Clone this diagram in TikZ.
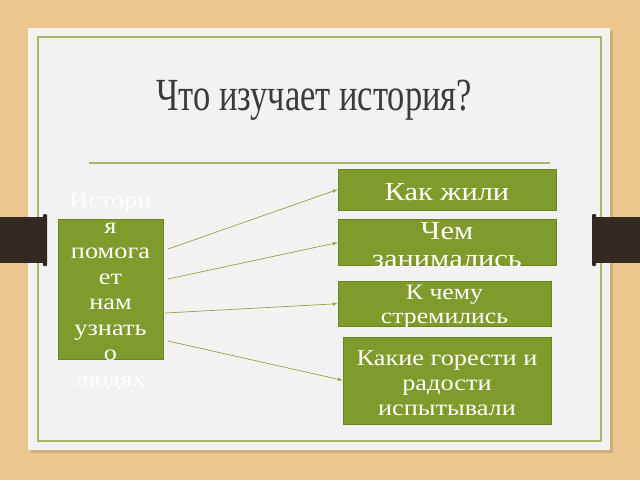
\documentclass[tikz,border=0pt]{standalone}
\usepackage{fontspec}
\setmainfont[FakeStretch=1.17]{Liberation Serif}
\newfontfamily\titlefont[FakeStretch=0.75]{Liberation Serif}
\usetikzlibrary{positioning}

\definecolor{wood}{RGB}{236,198,143}
\definecolor{card}{RGB}{242,242,242}
\definecolor{olive}{RGB}{127,155,43}
\definecolor{oliveline}{RGB}{163,184,104}
\definecolor{clipdark}{RGB}{52,41,33}
\definecolor{titlegrey}{RGB}{58,58,58}

\begin{document}
\begin{tikzpicture}
[x=1pt, y=-1pt, >=latex,
% STYLES
% The topic style is used to draw the green boxes
topic/.style={rectangle, draw=olive!85!black, fill=olive, inner sep=0pt, line width=0.6pt},
% The wording style is used for the white words put on the boxes
wording/.style={text=white, align=center, inner sep=0pt, yshift=-3pt},
% The link style is used for the thin arrows
link/.style={->, olive!90, line width=0.7pt}]

\useasboundingbox (0,0) rectangle (640,480);

% Draw the desk, the sheet and its frame
\fill[wood] (0,0) rectangle (640,480);
\fill[black, opacity=0.12] (31,31) rectangle (613,453);
\fill[card] (28,28) rectangle (610,450);
\draw[oliveline, line width=1.2pt] (38,37) rectangle (601,441);

% Draw the clips
\fill[clipdark] (0,217) rectangle (45,263);
\fill[clipdark, rounded corners=1pt] (43,214) rectangle (47,266);
\fill[clipdark] (595,217) rectangle (640,263);
\fill[clipdark, rounded corners=1pt] (592,214) rectangle (596,266);

% Draw the title
\node[anchor=base, text=titlegrey, font=\titlefont\fontsize{46}{50}\selectfont] (title) at (314,110) {Что изучает история?};
\draw[oliveline, line width=2pt] (89,163) -- (550,163);

% Draw boxes
\node [topic, minimum width=105pt, minimum height=140pt,
  label={[wording, font=\fontsize{22.5}{25.5}\selectfont]center:{Истори\\я\\помога\\ет\\нам\\узнать\\о\\людях}}] (history) at (110.5,289) {};
\node [topic, minimum width=218pt, minimum height=41pt,
  label={[wording, font=\fontsize{26}{28}\selectfont]center:{Как жили}}] (lived) at (447,189.5) {};
\node [topic, minimum width=218pt, minimum height=46pt, below=9pt of lived,
  label={[wording, font=\fontsize{26}{28}\selectfont]center:{Чем\\занимались}}] (occupied) {};
\node [topic, minimum width=213pt, minimum height=45pt, below right=15pt and 0pt of occupied.south west,
  label={[wording, font=\fontsize{22}{24}\selectfont]center:{К чему\\стремились}}] (aimed) {};
\node [topic, minimum width=208pt, minimum height=87pt, below left=10pt and 0pt of aimed.south east,
  label={[wording, font=\fontsize{22.5}{25}\selectfont]center:{Какие горести и\\радости\\испытывали}}] (feelings) {};

% Starting points of the arrows
\coordinate (from-lived) at (168,249);
\coordinate (from-occupied) at (168,279);
\coordinate (from-aimed) at (165,313);
\coordinate (from-feelings) at (168,341);

% Draw the links between boxes
\path[link]
(from-lived) edge (lived.west)
(from-occupied) edge (occupied.west)
(from-aimed) edge (aimed.west)
(from-feelings) edge (feelings.west);

\end{tikzpicture}
\end{document}
